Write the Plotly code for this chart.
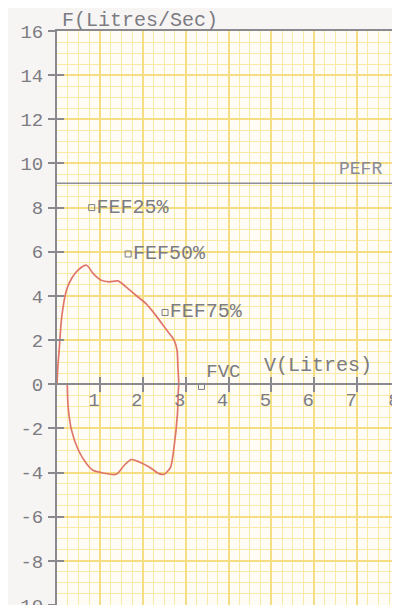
import plotly.graph_objects as go

# ---- data ----
# expiratory limb (upper half of the loop), from the origin
exp_v = [0.0, 0.02, 0.05, 0.11, 0.22, 0.34, 0.49, 0.69, 0.84, 1.03, 1.22, 1.42,
         1.61, 1.84, 2.07, 2.30, 2.53, 2.73, 2.80, 2.82, 2.84]
exp_f = [0.0, 0.8, 1.54, 3.05, 4.26, 4.79, 5.17, 5.39, 5.02, 4.71, 4.64, 4.68,
         4.41, 4.03, 3.66, 3.13, 2.52, 2.0, 1.54, 0.78, 0.0]
# inspiratory limb (lower half), from FVC back towards the start
insp_v = [2.83, 2.81, 2.73, 2.65, 2.50, 2.38, 2.15, 1.92, 1.73, 1.57, 1.38,
          1.07, 0.84, 0.69, 0.50, 0.34, 0.26, 0.24]
insp_f = [-0.27, -1.33, -2.84, -3.75, -4.08, -4.05, -3.75, -3.52, -3.41, -3.67,
          -4.08, -4.02, -3.9, -3.6, -2.99, -2.09, -1.03, 0.0]

fef_names = ["FEF25%", "FEF50%", "FEF75%"]
fef_v = [0.81, 1.66, 2.52]
fef_f = [8.0, 5.9, 3.25]

fvc_name = ["FVC"]
fvc_v = [3.37]
fvc_f = [-0.1]

pefr = 9.1

x_tickvals = [1, 2, 3, 4, 5, 6, 7, 8]
x_ticktext = ["1", "2", "3", "4", "5", "6", "7", "8"]
y_tickvals = [-10, -8, -6, -4, -2, 0, 2, 4, 6, 8, 10, 12, 14, 16]
y_ticktext = ["-10", "-8", "-6", "-4", "-2", "0", "2", "4", "6", "8", "10", "12", "14", "16"]

X_RANGE = [0, 8]
Y_RANGE = [-10, 16]

# ---- styles ----
FONT = "Courier New, Liberation Mono, monospace"
TXT = "#7c7c82"
AXC = "#8a8a8e"
MINOR_GRID = "#f9e9a6"
MAJOR_GRID = "#f5dd84"
LOOP = "#e0766a"

# the page body has an 8px default margin; size the figure to fill the window
BODY = 8

fig = go.Figure()

fig.add_trace(go.Scatter(
    x=exp_v + insp_v, y=exp_f + insp_f, mode="lines",
    line=dict(color=LOOP, width=1.7, shape="spline", smoothing=0.7),
    hoverinfo="skip", showlegend=False))

fig.add_trace(go.Scatter(
    x=fef_v, y=fef_f, mode="markers+text", text=fef_names,
    textposition="middle right",
    textfont=dict(family=FONT, size=20, color=TXT),
    marker=dict(symbol="square-open", size=6, color=TXT, line=dict(width=1)),
    hoverinfo="skip", showlegend=False))

fig.add_trace(go.Scatter(
    x=fvc_v, y=fvc_f, mode="markers+text", text=fvc_name,
    textposition="top right",
    textfont=dict(family=FONT, size=19, color=TXT),
    marker=dict(symbol="square-open", size=6, color=TXT, line=dict(width=1)),
    hoverinfo="skip", showlegend=False))

# helper traces so the overlay axes are drawn
fig.add_trace(go.Scatter(x=[None], y=[None], xaxis="x2", yaxis="y2",
                         showlegend=False, hoverinfo="skip"))
fig.add_trace(go.Scatter(x=[None], y=[None], xaxis="x3", yaxis="y",
                         showlegend=False, hoverinfo="skip"))

fig.add_hline(y=pefr, line=dict(color="#8e8e98", width=1.5))

zero_pos = (0 - Y_RANGE[0]) / (Y_RANGE[1] - Y_RANGE[0])
tickfont = dict(family=FONT, size=19, color=TXT)

fig.update_layout(
    width=400 - BODY, height=605 - BODY,
    margin=dict(l=57 - BODY, r=0, t=31 - BODY, b=0, autoexpand=False),
    paper_bgcolor="#f7f5f4",
    plot_bgcolor="#fefcf5",
    font=dict(family=FONT, color=TXT),
    xaxis=dict(
        range=X_RANGE, anchor="free", position=zero_pos, automargin=False,
        showline=True, linecolor=AXC, linewidth=2,
        ticks="outside", ticklen=7, tickwidth=2, tickcolor=AXC,
        tickmode="array", tickvals=x_tickvals, ticktext=x_ticktext,
        tickfont=tickfont, ticklabelshift=-6, ticklabelstandoff=-9,
        ticklabeloverflow="allow",
        showgrid=True, gridcolor=MAJOR_GRID, gridwidth=1.8,
        minor=dict(dtick=0.25, tick0=0, showgrid=True, gridcolor=MINOR_GRID,
                   gridwidth=1.3, ticks=""),
        zeroline=False, fixedrange=True),
    xaxis2=dict(
        range=X_RANGE, overlaying="x", anchor="free", position=zero_pos,
        automargin=False,
        showline=False, ticks="inside", ticklen=7, tickwidth=2, tickcolor=AXC,
        tickmode="array", tickvals=x_tickvals, showticklabels=False,
        showgrid=False, zeroline=False, fixedrange=True),
    xaxis3=dict(
        range=X_RANGE, overlaying="x", side="top", anchor="y", automargin=False,
        showline=True, linecolor=AXC, linewidth=2, ticks="",
        showticklabels=False, showgrid=False, zeroline=False, fixedrange=True),
    yaxis=dict(
        range=Y_RANGE, domain=[0, 1], automargin=False,
        showline=True, linecolor=AXC, linewidth=2,
        ticks="outside", ticklen=7, tickwidth=2, tickcolor=AXC,
        tickmode="array", tickvals=y_tickvals, ticktext=y_ticktext,
        tickfont=tickfont, ticklabelstandoff=1, ticklabeloverflow="allow",
        showgrid=True, gridcolor=MAJOR_GRID, gridwidth=1.8,
        minor=dict(dtick=0.5, tick0=0, showgrid=True, gridcolor=MINOR_GRID,
                   gridwidth=1.3, ticks=""),
        zeroline=False, fixedrange=True),
    yaxis2=dict(
        range=Y_RANGE, overlaying="y", anchor="x", side="left", automargin=False,
        showline=False, ticks="inside", ticklen=7, tickwidth=2, tickcolor=AXC,
        tickmode="array", tickvals=y_tickvals, showticklabels=False,
        showgrid=False, zeroline=False, fixedrange=True),
    annotations=[
        dict(text="F(Litres/Sec)", xref="paper", yref="paper", x=0.008, y=1,
             xanchor="left", yanchor="bottom", yshift=-3, showarrow=False,
             font=dict(family=FONT, size=20, color=TXT)),
        dict(text="V(Litres)", xref="x", yref="y", x=4.79, y=0,
             xanchor="left", yanchor="bottom", yshift=5, showarrow=False,
             font=dict(family=FONT, size=20, color=TXT)),
        dict(text="PEFR", xref="x", yref="y", x=6.53, y=pefr,
             xanchor="left", yanchor="bottom", yshift=2, showarrow=False,
             font=dict(family=FONT, size=18, color="#8a8a96")),
    ],
)

fig.write_html("out.html")
